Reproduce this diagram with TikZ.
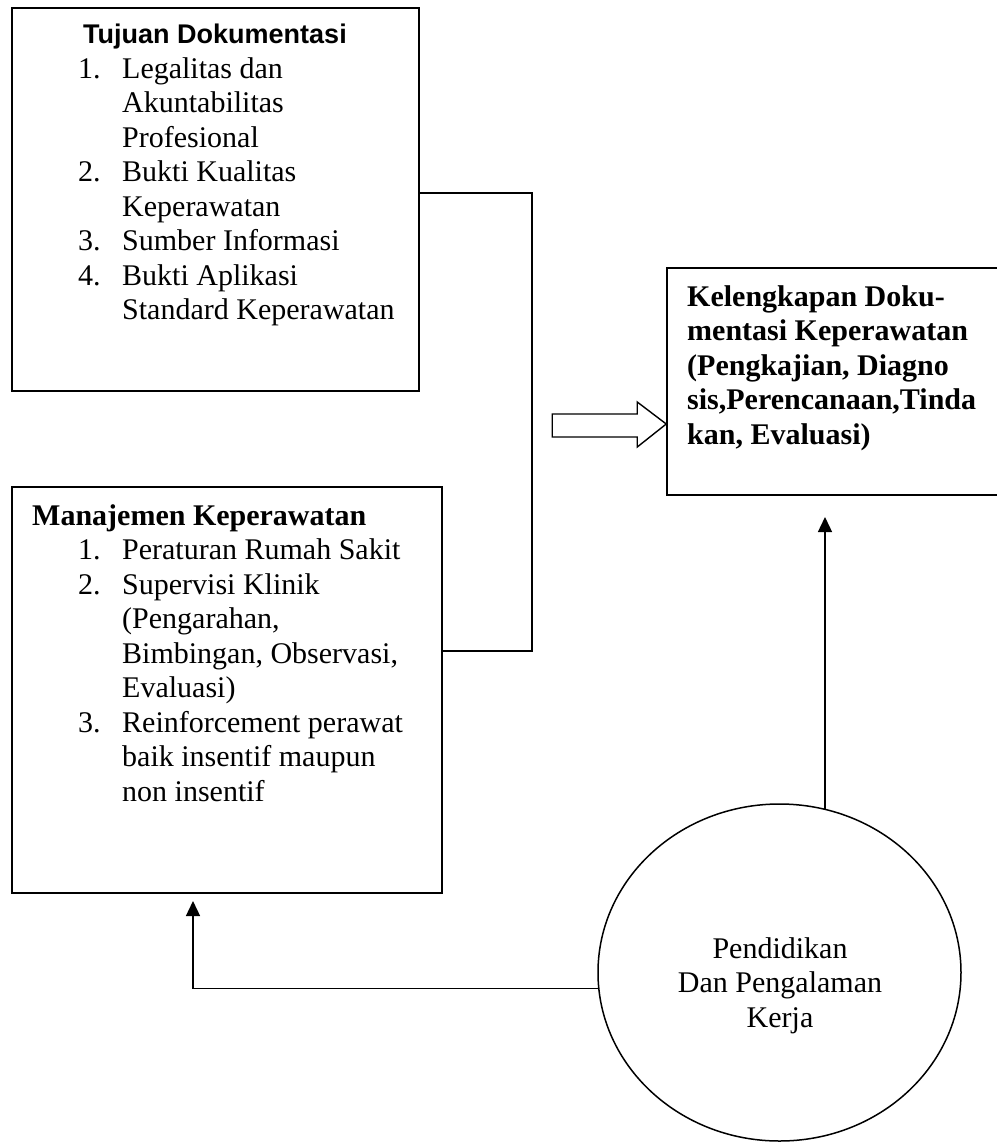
\documentclass[tikz,border=0pt]{standalone}
\usepackage{fontspec}
\setmainfont{Liberation Serif}
\newfontfamily\arialfont{Liberation Sans}
\usetikzlibrary{arrows.meta,shapes.geometric,calc}
\begin{document}
\begin{tikzpicture}[x=1bp,y=-1bp,
  box/.style={draw, line width=1.5bp, inner sep=0pt},
  conn/.style={line width=1.4bp},
  arr/.style={line width=1.4bp, -{Triangle[length=15bp,width=14bp]}},
  txt/.style={inner sep=0pt, anchor=base west, font=\fontsize{30bp}{34.5bp}\selectfont},
  btxt/.style={inner sep=0pt, anchor=base west, font=\bfseries\fontsize{30bp}{34.5bp}\selectfont},
]
\useasboundingbox (0,0) rectangle (997,1142);
\clip (0,0) rectangle (997,1142);

% boxes
\node[box, minimum width=407bp, minimum height=383bp] (b1) at (215.5,199.5) {};
\node[box, minimum width=430bp, minimum height=406bp] (b2) at (227,690) {};
\node[box, minimum width=343bp, minimum height=227bp] (b3) at (838.5,381.5) {};
\node[box, ellipse, minimum width=363bp, minimum height=337bp] (e) at (779.5,972.5) {};

% texts
\node[inner sep=0pt, anchor=base, font=\arialfont\bfseries\fontsize{27bp}{31bp}\selectfont] (t1) at (215,43) {Tujuan Dokumentasi};
\node[txt] (l1) at (78,78) {\begin{tabular}[t]{@{}p{44bp}@{}l@{}}
1. & Legalitas dan\\
   & Akuntabilitas\\
   & Profesional\\
2. & Bukti Kualitas\\
   & Keperawatan\\
3. & Sumber Informasi\\
4. & Bukti Aplikasi\\
   & Standard Keperawatan
\end{tabular}};

\node[btxt] (t2) at (32,525) {Manajemen Keperawatan};
\node[txt] (l2) at (78,559.5) {\begin{tabular}[t]{@{}p{44bp}@{}l@{}}
1. & Peraturan Rumah Sakit\\
2. & Supervisi Klinik\\
   & (Pengarahan,\\
   & Bimbingan, Observasi,\\
   & Evaluasi)\\
3. & Reinforcement perawat\\
   & baik insentif maupun\\
   & non insentif
\end{tabular}};

\node[btxt] (t3) at (687,306) {\begin{tabular}[t]{@{}l@{}}
Kelengkapan Doku-\\
mentasi Keperawatan\\
(Pengkajian, Diagno\\
sis,Perencanaan,Tinda\\
kan, Evaluasi)
\end{tabular}};

\node[inner sep=0pt, anchor=base, font=\fontsize{30bp}{34.5bp}\selectfont] (t4) at (780,958) {\begin{tabular}[t]{@{}c@{}}
Pendidikan\\
Dan Pengalaman\\
Kerja
\end{tabular}};

% connectors
\coordinate (j1) at (532,193);
\coordinate (j2) at (532,651);
\draw[conn] (j1 -| b1.east) -- (j1) -- (j2) -- (j2 -| b2.east);

% block arrow
\coordinate (bt) at (b3.west |- 0,424);
\draw[line width=1.4bp, fill=white, line join=miter]
  ($(bt)+(-114,-10)$) -- ($(bt)+(-29,-10)$) -- ($(bt)+(-29,-22)$) -- (bt)
  -- ($(bt)+(-29,23)$) -- ($(bt)+(-29,13)$) -- ($(bt)+(-114,13)$) -- cycle;

% arrows
\coordinate (a3) at (825,517);
\draw[arr] (a3 |- e.74.4) -- (a3);
\coordinate (a2) at (193,901);
\draw[arr] (e.185.2) -| (a2);
\end{tikzpicture}
\end{document}
